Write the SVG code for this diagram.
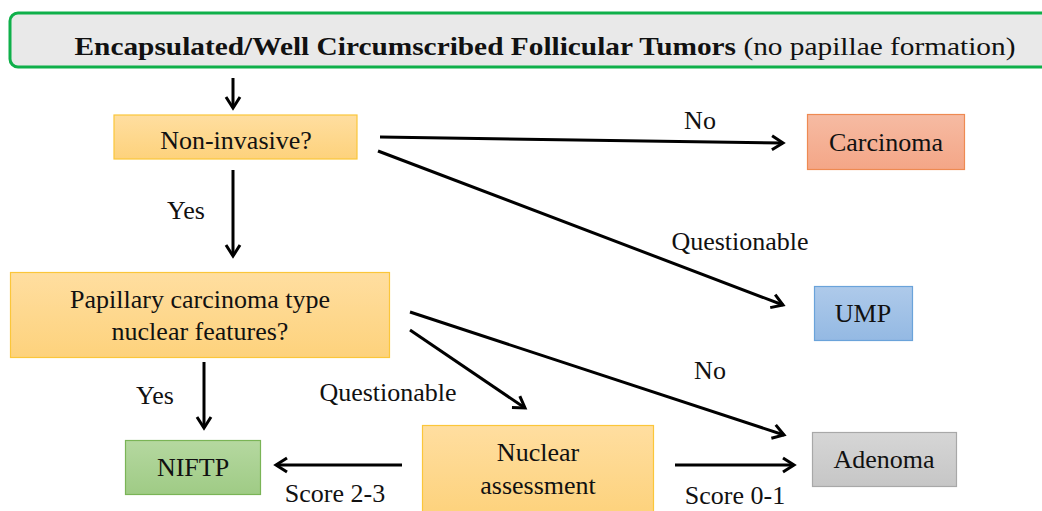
<svg xmlns="http://www.w3.org/2000/svg" width="1042" height="511" viewBox="0 0 1042 511">
<defs>
<linearGradient id="gOrange" x1="0" y1="0" x2="0" y2="1"><stop offset="0" stop-color="#ffdea0"/><stop offset="1" stop-color="#fdd27c"/></linearGradient>
<linearGradient id="gRed" x1="0" y1="0" x2="0" y2="1"><stop offset="0" stop-color="#f6bba3"/><stop offset="1" stop-color="#f4a687"/></linearGradient>
<linearGradient id="gBlue" x1="0" y1="0" x2="0" y2="1"><stop offset="0" stop-color="#aecaea"/><stop offset="1" stop-color="#94b9e3"/></linearGradient>
<linearGradient id="gGreen" x1="0" y1="0" x2="0" y2="1"><stop offset="0" stop-color="#b5d8a0"/><stop offset="1" stop-color="#9fcb85"/></linearGradient>
<linearGradient id="gGray" x1="0" y1="0" x2="0" y2="1"><stop offset="0" stop-color="#d6d6d6"/><stop offset="1" stop-color="#c6c6c6"/></linearGradient>
<marker id="arr" markerUnits="userSpaceOnUse" viewBox="0 0 16 18" refX="13" refY="9" markerWidth="16" markerHeight="18" orient="auto">
<path d="M2,2 L13,9 L2,16" fill="none" stroke="#000" stroke-width="3" stroke-linejoin="miter"/>
</marker>
</defs>
<style>
text{font-family:'Liberation Serif','DejaVu Serif','Times New Roman',serif;fill:#111;text-anchor:middle}
.t{font-size:26px}
.l{font-size:26px}
.c{stroke:#000;stroke-width:3;fill:none;marker-end:url(#arr)}
</style>
<rect width="1042" height="511" fill="#fff"/>
<g id="header">
<rect x="10" y="13" width="1050" height="54" rx="8" ry="8" fill="#e9e9e9" stroke="#0fb04a" stroke-width="3"/>
<text x="545" y="55" style="font-size:25px" textLength="941" lengthAdjust="spacingAndGlyphs"><tspan font-weight="bold">Encapsulated/Well Circumscribed Follicular Tumors</tspan> (no papillae formation)</text>
</g>
<g id="noninvasive">
<rect x="114" y="115" width="243" height="44" fill="url(#gOrange)" stroke="#fbc63a" stroke-width="1.2"/>
<text x="236" y="149" class="t">Non-invasive?</text>
</g>
<g id="papillary">
<rect x="10.5" y="272.5" width="379" height="85" fill="url(#gOrange)" stroke="#fbc63a" stroke-width="1.2"/>
<text x="200" y="308" class="t">Papillary carcinoma type</text>
<text x="200" y="340" class="t">nuclear features?</text>
</g>
<g id="carcinoma">
<rect x="807.5" y="114.5" width="157" height="55" fill="url(#gRed)" stroke="#ee8a52" stroke-width="1.2"/>
<text x="886" y="151" class="t">Carcinoma</text>
</g>
<g id="ump">
<rect x="814.5" y="286.5" width="98" height="54" fill="url(#gBlue)" stroke="#6aa3da" stroke-width="1.2"/>
<text x="863" y="322" class="t">UMP</text>
</g>
<g id="adenoma">
<rect x="812.5" y="432.5" width="144" height="54" fill="url(#gGray)" stroke="#a8a8a8" stroke-width="1.2"/>
<text x="884" y="468" class="t">Adenoma</text>
</g>
<g id="niftp">
<rect x="125.5" y="440.5" width="135" height="54" fill="url(#gGreen)" stroke="#7ab456" stroke-width="1.2"/>
<text x="193" y="476" class="t">NIFTP</text>
</g>
<g id="nuclear">
<rect x="422.5" y="425.5" width="231" height="90" fill="url(#gOrange)" stroke="#fbc63a" stroke-width="1.2"/>
<text x="538" y="461" class="t">Nuclear</text>
<text x="538" y="494" class="t">assessment</text>
</g>
<g id="connectors">
<line class="c" x1="233" y1="78" x2="233" y2="108"/>
<line class="c" x1="380" y1="137" x2="783" y2="143"/>
<line class="c" x1="378" y1="151" x2="783" y2="305"/>
<line class="c" x1="233" y1="170" x2="233" y2="256"/>
<line class="c" x1="410" y1="312" x2="784" y2="435"/>
<line class="c" x1="410" y1="330" x2="525" y2="408"/>
<line class="c" x1="204" y1="362" x2="204" y2="428"/>
<line class="c" x1="402" y1="465" x2="276" y2="465"/>
<line class="c" x1="675" y1="465" x2="794" y2="465"/>
<text x="700" y="129" class="l">No</text>
<text x="740" y="250" class="l">Questionable</text>
<text x="186" y="219" class="l">Yes</text>
<text x="710" y="379" class="l">No</text>
<text x="388" y="401" class="l">Questionable</text>
<text x="155" y="404" class="l">Yes</text>
<text x="335" y="502" class="l">Score 2-3</text>
<text x="735" y="504" class="l">Score 0-1</text>
</g>
</svg>
